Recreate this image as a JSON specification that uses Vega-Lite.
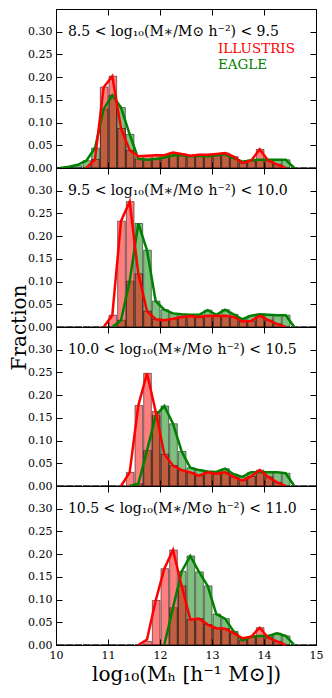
{
"$schema":"https://vega.github.io/schema/vega-lite/v6.json",
"padding":{"left":8,"top":8,"right":5,"bottom":5},
"spacing":0,
"bounds":"flush",
"datasets":{
"lab":[
{"p":1,"t":"8.5 < log₁₀(M∗/M⊙ h⁻²) < 9.5"},
{"p":2,"t":"9.5 < log₁₀(M∗/M⊙ h⁻²) < 10.0"},
{"p":3,"t":"10.0 < log₁₀(M∗/M⊙ h⁻²) < 10.5"},
{"p":4,"t":"10.5 < log₁₀(M∗/M⊙ h⁻²) < 11.0"}
],
"h":[
{"p":1,"c":10.083,"r":0,"g":0.001,"gl":0},
{"p":1,"c":10.25,"r":0,"g":0.002,"gl":0.003},
{"p":1,"c":10.417,"r":0,"g":0.005,"gl":0.007},
{"p":1,"c":10.583,"r":0,"g":0.016,"rl":0,"gl":0.016},
{"p":1,"c":10.75,"r":0.019,"g":0.044,"rl":0.019,"gl":0.044},
{"p":1,"c":10.917,"r":0.178,"g":0.13,"rl":0.178,"gl":0.13},
{"p":1,"c":11.083,"r":0.202,"g":0.16,"rl":0.202,"gl":0.16},
{"p":1,"c":11.25,"r":0.087,"g":0.133,"rl":0.087,"gl":0.133},
{"p":1,"c":11.417,"r":0.039,"g":0.074,"rl":0.039,"gl":0.074},
{"p":1,"c":11.583,"r":0.026,"g":0.02,"rl":0.026,"gl":0.02},
{"p":1,"c":11.75,"r":0.027,"g":0.018,"rl":0.027,"gl":0.018},
{"p":1,"c":11.917,"r":0.028,"g":0.02,"rl":0.028,"gl":0.02},
{"p":1,"c":12.083,"r":0.028,"g":0.023,"rl":0.028,"gl":0.023},
{"p":1,"c":12.25,"r":0.034,"g":0.028,"rl":0.034,"gl":0.028},
{"p":1,"c":12.417,"r":0.031,"g":0.028,"rl":0.031,"gl":0.028},
{"p":1,"c":12.583,"r":0.027,"g":0.026,"rl":0.027,"gl":0.026},
{"p":1,"c":12.75,"r":0.029,"g":0.027,"rl":0.029,"gl":0.027},
{"p":1,"c":12.917,"r":0.029,"g":0.026,"rl":0.029,"gl":0.026},
{"p":1,"c":13.083,"r":0.031,"g":0.028,"rl":0.031,"gl":0.028},
{"p":1,"c":13.25,"r":0.033,"g":0.03,"rl":0.033,"gl":0.03},
{"p":1,"c":13.417,"r":0.025,"g":0.022,"rl":0.025,"gl":0.022},
{"p":1,"c":13.583,"r":0.011,"g":0.014,"rl":0.011,"gl":0.014},
{"p":1,"c":13.75,"r":0.016,"g":0.017,"rl":0.016,"gl":0.017},
{"p":1,"c":13.917,"r":0.041,"g":0.018,"rl":0.041,"gl":0.018},
{"p":1,"c":14.083,"r":0.016,"g":0.018,"rl":0.016,"gl":0.018},
{"p":1,"c":14.25,"r":0.008,"g":0.018,"rl":0.008,"gl":0.018},
{"p":1,"c":14.417,"r":0,"g":0.018,"rl":0,"gl":0.018},
{"p":1,"c":14.583,"r":0,"g":0,"gl":0},
{"p":1,"c":14.75,"r":0,"g":0},
{"p":1,"c":14.917,"r":0,"g":0},
{"p":2,"c":10.083,"r":0,"g":0},
{"p":2,"c":10.25,"r":0,"g":0},
{"p":2,"c":10.417,"r":0,"g":0},
{"p":2,"c":10.583,"r":0,"g":0},
{"p":2,"c":10.75,"r":0,"g":0},
{"p":2,"c":10.917,"r":0,"g":0,"rl":0},
{"p":2,"c":11.083,"r":0.026,"g":0,"rl":0.026,"gl":0},
{"p":2,"c":11.25,"r":0.233,"g":0.015,"rl":0.233,"gl":0.015},
{"p":2,"c":11.417,"r":0.276,"g":0.101,"rl":0.276,"gl":0.101},
{"p":2,"c":11.583,"r":0.117,"g":0.228,"rl":0.117,"gl":0.228},
{"p":2,"c":11.75,"r":0.035,"g":0.169,"rl":0.035,"gl":0.169},
{"p":2,"c":11.917,"r":0.017,"g":0.057,"rl":0.017,"gl":0.057},
{"p":2,"c":12.083,"r":0.015,"g":0.038,"rl":0.015,"gl":0.038},
{"p":2,"c":12.25,"r":0.018,"g":0.03,"rl":0.018,"gl":0.03},
{"p":2,"c":12.417,"r":0.022,"g":0.028,"rl":0.022,"gl":0.028},
{"p":2,"c":12.583,"r":0.024,"g":0.027,"rl":0.024,"gl":0.027},
{"p":2,"c":12.75,"r":0.022,"g":0.027,"rl":0.022,"gl":0.027},
{"p":2,"c":12.917,"r":0.025,"g":0.037,"rl":0.025,"gl":0.037},
{"p":2,"c":13.083,"r":0.024,"g":0.027,"rl":0.024,"gl":0.027},
{"p":2,"c":13.25,"r":0.025,"g":0.038,"rl":0.025,"gl":0.038},
{"p":2,"c":13.417,"r":0.022,"g":0.028,"rl":0.022,"gl":0.028},
{"p":2,"c":13.583,"r":0.012,"g":0.017,"rl":0.012,"gl":0.017},
{"p":2,"c":13.75,"r":0.013,"g":0.025,"rl":0.013,"gl":0.025},
{"p":2,"c":13.917,"r":0.025,"g":0.028,"rl":0.025,"gl":0.028},
{"p":2,"c":14.083,"r":0.015,"g":0.027,"rl":0.015,"gl":0.027},
{"p":2,"c":14.25,"r":0.007,"g":0.026,"rl":0.007,"gl":0.026},
{"p":2,"c":14.417,"r":0,"g":0.026,"rl":0,"gl":0.026},
{"p":2,"c":14.583,"r":0,"g":0,"gl":0},
{"p":2,"c":14.75,"r":0,"g":0},
{"p":2,"c":14.917,"r":0,"g":0},
{"p":3,"c":10.083,"r":0,"g":0},
{"p":3,"c":10.25,"r":0,"g":0},
{"p":3,"c":10.417,"r":0,"g":0},
{"p":3,"c":10.583,"r":0,"g":0},
{"p":3,"c":10.75,"r":0,"g":0},
{"p":3,"c":10.917,"r":0,"g":0},
{"p":3,"c":11.083,"r":0,"g":0},
{"p":3,"c":11.25,"r":0,"g":0,"rl":0},
{"p":3,"c":11.417,"r":0.03,"g":0,"rl":0.03,"gl":0},
{"p":3,"c":11.583,"r":0.177,"g":0.005,"rl":0.177,"gl":0.005},
{"p":3,"c":11.75,"r":0.248,"g":0.078,"rl":0.248,"gl":0.078},
{"p":3,"c":11.917,"r":0.164,"g":0.155,"rl":0.164,"gl":0.155},
{"p":3,"c":12.083,"r":0.07,"g":0.176,"rl":0.07,"gl":0.176},
{"p":3,"c":12.25,"r":0.045,"g":0.137,"rl":0.045,"gl":0.137},
{"p":3,"c":12.417,"r":0.035,"g":0.076,"rl":0.035,"gl":0.076},
{"p":3,"c":12.583,"r":0.03,"g":0.04,"rl":0.03,"gl":0.04},
{"p":3,"c":12.75,"r":0.023,"g":0.035,"rl":0.023,"gl":0.035},
{"p":3,"c":12.917,"r":0.03,"g":0.032,"rl":0.03,"gl":0.032},
{"p":3,"c":13.083,"r":0.027,"g":0.031,"rl":0.027,"gl":0.031},
{"p":3,"c":13.25,"r":0.03,"g":0.038,"rl":0.03,"gl":0.038},
{"p":3,"c":13.417,"r":0.02,"g":0.026,"rl":0.02,"gl":0.026},
{"p":3,"c":13.583,"r":0.012,"g":0.02,"rl":0.012,"gl":0.02},
{"p":3,"c":13.75,"r":0.021,"g":0.03,"rl":0.021,"gl":0.03},
{"p":3,"c":13.917,"r":0.035,"g":0.03,"rl":0.035,"gl":0.03},
{"p":3,"c":14.083,"r":0.02,"g":0.03,"rl":0.02,"gl":0.03},
{"p":3,"c":14.25,"r":0.008,"g":0.03,"rl":0.008,"gl":0.03},
{"p":3,"c":14.417,"r":0,"g":0.028,"rl":0,"gl":0.028},
{"p":3,"c":14.583,"r":0,"g":0,"gl":0},
{"p":3,"c":14.75,"r":0,"g":0},
{"p":3,"c":14.917,"r":0,"g":0},
{"p":4,"c":10.083,"r":0,"g":0},
{"p":4,"c":10.25,"r":0,"g":0},
{"p":4,"c":10.417,"r":0,"g":0},
{"p":4,"c":10.583,"r":0,"g":0},
{"p":4,"c":10.75,"r":0,"g":0},
{"p":4,"c":10.917,"r":0,"g":0},
{"p":4,"c":11.083,"r":0,"g":0},
{"p":4,"c":11.25,"r":0,"g":0},
{"p":4,"c":11.417,"r":0,"g":0},
{"p":4,"c":11.583,"r":0,"g":0,"rl":0},
{"p":4,"c":11.75,"r":0.008,"g":0,"rl":0.012},
{"p":4,"c":11.917,"r":0.098,"g":0,"rl":0.098},
{"p":4,"c":12.083,"r":0.168,"g":0,"rl":0.168,"gl":0},
{"p":4,"c":12.25,"r":0.209,"g":0.082,"rl":0.209,"gl":0.082},
{"p":4,"c":12.417,"r":0.13,"g":0.162,"rl":0.13,"gl":0.162},
{"p":4,"c":12.583,"r":0.056,"g":0.196,"rl":0.056,"gl":0.196},
{"p":4,"c":12.75,"r":0.058,"g":0.161,"rl":0.058,"gl":0.161},
{"p":4,"c":12.917,"r":0.045,"g":0.13,"rl":0.045,"gl":0.13},
{"p":4,"c":13.083,"r":0.037,"g":0.068,"rl":0.037,"gl":0.068},
{"p":4,"c":13.25,"r":0.036,"g":0.058,"rl":0.036,"gl":0.058},
{"p":4,"c":13.417,"r":0.026,"g":0.03,"rl":0.026,"gl":0.03},
{"p":4,"c":13.583,"r":0.015,"g":0.01,"rl":0.015,"gl":0.01},
{"p":4,"c":13.75,"r":0.018,"g":0.018,"rl":0.018,"gl":0.018},
{"p":4,"c":13.917,"r":0.038,"g":0.02,"rl":0.038,"gl":0.02},
{"p":4,"c":14.083,"r":0.016,"g":0.02,"rl":0.016,"gl":0.02},
{"p":4,"c":14.25,"r":0.008,"g":0.026,"rl":0.008,"gl":0.026},
{"p":4,"c":14.417,"r":0,"g":0.02,"rl":0,"gl":0.02},
{"p":4,"c":14.583,"r":0,"g":0,"gl":0},
{"p":4,"c":14.75,"r":0,"g":0},
{"p":4,"c":14.917,"r":0,"g":0}
]},
"vconcat":[
{"width":260,"height":159,
"layer":[
{"data":{"name":"h"},"transform":[{"filter":"datum.p==1"}],
"mark":{"type":"bar","fill":"#008000","fillOpacity":0.5,"stroke":"#000000","strokeOpacity":0.5,"strokeWidth":1},
"encoding":{"x":{"field":"c","type":"quantitative","bin":{"extent":[10,15],"step":0.16666666666666666,"nice":false},"scale":{"domain":[10,15]},"axis":{"orient":"bottom","values":[10,11,12,13,14,15],"labels":false,"title":null,"tickSize":-6,"domain":false}},
"y":{"field":"g","type":"quantitative","stack":null,"scale":{"domain":[0,0.33]},"axis":{"orient":"left","values":[0,0.05,0.1,0.15,0.2,0.25,0.3],"format":".2f","title":null,"tickSize":-6,"labelPadding":10}}}},
{"data":{"name":"h"},"transform":[{"filter":"datum.p==1"}],
"mark":{"type":"bar","fill":"#ff0000","fillOpacity":0.5,"stroke":"#000000","strokeOpacity":0.5,"strokeWidth":1},
"encoding":{"x":{"field":"c","type":"quantitative","bin":{"extent":[10,15],"step":0.16666666666666666,"nice":false},"axis":null},
"y":{"field":"r","type":"quantitative","stack":null,"axis":null}}},
{"data":{"name":"h"},"transform":[{"filter":"datum.p==1 && isValid(datum.gl)"}],
"mark":{"type":"line","color":"#008000","strokeWidth":2.5},
"encoding":{"x":{"field":"c","type":"quantitative","axis":{"orient":"top","values":[10,11,12,13,14,15],"labels":false,"title":null,"tickSize":-6,"domain":false}},
"y":{"field":"gl","type":"quantitative","axis":{"orient":"right","values":[0,0.05,0.1,0.15,0.2,0.25,0.3],"labels":false,"title":null,"tickSize":-6,"domain":false}}}},
{"data":{"name":"h"},"transform":[{"filter":"datum.p==1 && isValid(datum.rl)"}],
"mark":{"type":"line","color":"#ff0000","strokeWidth":2.5},
"encoding":{"x":{"field":"c","type":"quantitative","axis":null},"y":{"field":"rl","type":"quantitative","axis":null}}},
{"data":{"name":"lab"},"transform":[{"filter":"datum.p==1"}],
"mark":{"type":"text","font":"DejaVu Serif","fontSize":14,"align":"left","baseline":"middle","color":"#000000"},
"encoding":{"text":{"field":"t"},"x":{"datum":10.23,"type":"quantitative","axis":null},"y":{"datum":0.3,"type":"quantitative","axis":null}}},
{"data":{"values":[{"t":"ILLUSTRIS"}]},
"mark":{"type":"text","font":"DejaVu Serif","fontSize":13.5,"align":"left","baseline":"middle","color":"#ff0000"},
"encoding":{"text":{"field":"t"},"x":{"datum":13.115,"type":"quantitative","axis":null},"y":{"datum":0.261,"type":"quantitative","axis":null}}},
{"data":{"values":[{"t":"EAGLE"}]},
"mark":{"type":"text","font":"DejaVu Serif","fontSize":13.5,"align":"left","baseline":"middle","color":"#008000"},
"encoding":{"text":{"field":"t"},"x":{"datum":13.115,"type":"quantitative","axis":null},"y":{"datum":0.227,"type":"quantitative","axis":null}}}
],
"resolve":{"axis":{"x":"independent","y":"independent"}}},
{"width":260,"height":159,
"layer":[
{"data":{"name":"h"},"transform":[{"filter":"datum.p==2"}],
"mark":{"type":"bar","fill":"#008000","fillOpacity":0.5,"stroke":"#000000","strokeOpacity":0.5,"strokeWidth":1},
"encoding":{"x":{"field":"c","type":"quantitative","bin":{"extent":[10,15],"step":0.16666666666666666,"nice":false},"scale":{"domain":[10,15]},"axis":{"orient":"bottom","values":[10,11,12,13,14,15],"labels":false,"title":null,"tickSize":-6,"domain":false}},
"y":{"field":"g","type":"quantitative","stack":null,"scale":{"domain":[0,0.33]},"axis":{"orient":"left","values":[0,0.05,0.1,0.15,0.2,0.25,0.3],"format":".2f","title":null,"tickSize":-6,"labelPadding":10}}}},
{"data":{"name":"h"},"transform":[{"filter":"datum.p==2"}],
"mark":{"type":"bar","fill":"#ff0000","fillOpacity":0.5,"stroke":"#000000","strokeOpacity":0.5,"strokeWidth":1},
"encoding":{"x":{"field":"c","type":"quantitative","bin":{"extent":[10,15],"step":0.16666666666666666,"nice":false},"axis":null},
"y":{"field":"r","type":"quantitative","stack":null,"axis":null}}},
{"data":{"name":"h"},"transform":[{"filter":"datum.p==2 && isValid(datum.gl)"}],
"mark":{"type":"line","color":"#008000","strokeWidth":2.5},
"encoding":{"x":{"field":"c","type":"quantitative","axis":{"orient":"top","values":[10,11,12,13,14,15],"labels":false,"title":null,"tickSize":-6,"domain":false}},
"y":{"field":"gl","type":"quantitative","axis":{"orient":"right","values":[0,0.05,0.1,0.15,0.2,0.25,0.3],"labels":false,"title":null,"tickSize":-6,"domain":false}}}},
{"data":{"name":"h"},"transform":[{"filter":"datum.p==2 && isValid(datum.rl)"}],
"mark":{"type":"line","color":"#ff0000","strokeWidth":2.5},
"encoding":{"x":{"field":"c","type":"quantitative","axis":null},"y":{"field":"rl","type":"quantitative","axis":null}}},
{"data":{"name":"lab"},"transform":[{"filter":"datum.p==2"}],
"mark":{"type":"text","font":"DejaVu Serif","fontSize":14,"align":"left","baseline":"middle","color":"#000000"},
"encoding":{"text":{"field":"t"},"x":{"datum":10.23,"type":"quantitative","axis":null},"y":{"datum":0.3,"type":"quantitative","axis":null}}}
],
"resolve":{"axis":{"x":"independent","y":"independent"}}},
{"width":260,"height":159,
"layer":[
{"data":{"name":"h"},"transform":[{"filter":"datum.p==3"}],
"mark":{"type":"bar","fill":"#008000","fillOpacity":0.5,"stroke":"#000000","strokeOpacity":0.5,"strokeWidth":1},
"encoding":{"x":{"field":"c","type":"quantitative","bin":{"extent":[10,15],"step":0.16666666666666666,"nice":false},"scale":{"domain":[10,15]},"axis":{"orient":"bottom","values":[10,11,12,13,14,15],"labels":false,"title":null,"tickSize":-6,"domain":false}},
"y":{"field":"g","type":"quantitative","stack":null,"scale":{"domain":[0,0.33]},"axis":{"orient":"left","values":[0,0.05,0.1,0.15,0.2,0.25,0.3],"format":".2f","title":"Fraction","titleFontSize":20,"titleX":-31,"titleY":0,"titleAlign":"center","titleBaseline":"alphabetic","titleAngle":-90,"tickSize":-6,"labelPadding":10}}}},
{"data":{"name":"h"},"transform":[{"filter":"datum.p==3"}],
"mark":{"type":"bar","fill":"#ff0000","fillOpacity":0.5,"stroke":"#000000","strokeOpacity":0.5,"strokeWidth":1},
"encoding":{"x":{"field":"c","type":"quantitative","bin":{"extent":[10,15],"step":0.16666666666666666,"nice":false},"axis":null},
"y":{"field":"r","type":"quantitative","stack":null,"axis":null}}},
{"data":{"name":"h"},"transform":[{"filter":"datum.p==3 && isValid(datum.gl)"}],
"mark":{"type":"line","color":"#008000","strokeWidth":2.5},
"encoding":{"x":{"field":"c","type":"quantitative","axis":{"orient":"top","values":[10,11,12,13,14,15],"labels":false,"title":null,"tickSize":-6,"domain":false}},
"y":{"field":"gl","type":"quantitative","axis":{"orient":"right","values":[0,0.05,0.1,0.15,0.2,0.25,0.3],"labels":false,"title":null,"tickSize":-6,"domain":false}}}},
{"data":{"name":"h"},"transform":[{"filter":"datum.p==3 && isValid(datum.rl)"}],
"mark":{"type":"line","color":"#ff0000","strokeWidth":2.5},
"encoding":{"x":{"field":"c","type":"quantitative","axis":null},"y":{"field":"rl","type":"quantitative","axis":null}}},
{"data":{"name":"lab"},"transform":[{"filter":"datum.p==3"}],
"mark":{"type":"text","font":"DejaVu Serif","fontSize":14,"align":"left","baseline":"middle","color":"#000000"},
"encoding":{"text":{"field":"t"},"x":{"datum":10.23,"type":"quantitative","axis":null},"y":{"datum":0.3,"type":"quantitative","axis":null}}}
],
"resolve":{"axis":{"x":"independent","y":"independent"}}},
{"width":260,"height":159,
"layer":[
{"data":{"name":"h"},"transform":[{"filter":"datum.p==4"}],
"mark":{"type":"bar","fill":"#008000","fillOpacity":0.5,"stroke":"#000000","strokeOpacity":0.5,"strokeWidth":1},
"encoding":{"x":{"field":"c","type":"quantitative","bin":{"extent":[10,15],"step":0.16666666666666666,"nice":false},"scale":{"domain":[10,15]},"axis":{"orient":"bottom","values":[10,11,12,13,14,15],"format":"d","labelFlush":false,"title":"log₁₀(Mₕ [h⁻¹ M⊙])","titleFontSize":20,"tickSize":-6,"labelPadding":10,"domain":false}},
"y":{"field":"g","type":"quantitative","stack":null,"scale":{"domain":[0,0.33]},"axis":{"orient":"left","values":[0,0.05,0.1,0.15,0.2,0.25,0.3],"format":".2f","title":null,"tickSize":-6,"labelPadding":10}}}},
{"data":{"name":"h"},"transform":[{"filter":"datum.p==4"}],
"mark":{"type":"bar","fill":"#ff0000","fillOpacity":0.5,"stroke":"#000000","strokeOpacity":0.5,"strokeWidth":1},
"encoding":{"x":{"field":"c","type":"quantitative","bin":{"extent":[10,15],"step":0.16666666666666666,"nice":false},"axis":null},
"y":{"field":"r","type":"quantitative","stack":null,"axis":null}}},
{"data":{"name":"h"},"transform":[{"filter":"datum.p==4 && isValid(datum.gl)"}],
"mark":{"type":"line","color":"#008000","strokeWidth":2.5},
"encoding":{"x":{"field":"c","type":"quantitative","axis":{"orient":"top","values":[10,11,12,13,14,15],"labels":false,"title":null,"tickSize":-6,"domain":false}},
"y":{"field":"gl","type":"quantitative","axis":{"orient":"right","values":[0,0.05,0.1,0.15,0.2,0.25,0.3],"labels":false,"title":null,"tickSize":-6,"domain":false}}}},
{"data":{"name":"h"},"transform":[{"filter":"datum.p==4 && isValid(datum.rl)"}],
"mark":{"type":"line","color":"#ff0000","strokeWidth":2.5},
"encoding":{"x":{"field":"c","type":"quantitative","axis":null},"y":{"field":"rl","type":"quantitative","axis":null}}},
{"data":{"name":"lab"},"transform":[{"filter":"datum.p==4"}],
"mark":{"type":"text","font":"DejaVu Serif","fontSize":14,"align":"left","baseline":"middle","color":"#000000"},
"encoding":{"text":{"field":"t"},"x":{"datum":10.23,"type":"quantitative","axis":null},"y":{"datum":0.3,"type":"quantitative","axis":null}}}
],
"resolve":{"axis":{"x":"independent","y":"independent"}}}
],
"config":{
"view":{"stroke":"#000000","strokeWidth":1},
"axis":{"labelFont":"DejaVu Serif","labelFontSize":11,"labelColor":"#000000","tickColor":"#000000","domainColor":"#000000","titleFont":"DejaVu Serif","titleFontWeight":"normal","titleColor":"#000000","grid":false}
}
}
